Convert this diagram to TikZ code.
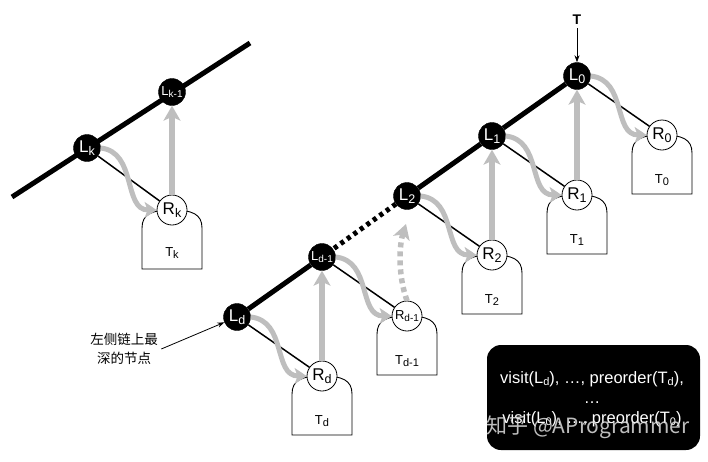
\documentclass[tikz,border=0pt]{standalone}
\usepackage{fontspec}
\setmainfont{Liberation Sans}
\newfontfamily\cjk{Noto Sans CJK SC}
\usetikzlibrary{arrows.meta,calc,backgrounds}
\newcommand\fs[1]{\fontsize{#1}{#1}\selectfont}
\newcommand\sbs[1]{\raisebox{-0.3ex}{\fontsize{12.5}{12.5}\selectfont #1}}
\newcommand\sbss[1]{\raisebox{-0.3ex}{\fontsize{10}{10}\selectfont #1}}
\newcommand\sbt[1]{\raisebox{-0.3ex}{\fontsize{11}{11}\selectfont #1}}
\definecolor{arrgray}{HTML}{BEBEBE}
\tikzset{
 lnode/.style={circle,fill=black,draw=black,minimum size=27pt,inner sep=0pt,text=white,font=\fs{17}},
 rnode/.style={circle,fill=white,draw=black,line width=0.8pt,minimum size=30pt,inner sep=0pt,font=\fs{17}},
 treebox/.style={draw=black,fill=white,line width=0.9pt},
 tlabel/.style={font=\fs{13},inner sep=0pt},
 spine/.style={line width=5pt},
 spinedot/.style={line width=5pt,dash pattern=on 4pt off 4pt},
 childln/.style={line width=1.5pt},
 uparr/.style={draw=arrgray,line width=5.5pt,-{Stealth[length=15pt,width=17pt,inset=4pt]}},
 curvarr/.style={draw=arrgray,line width=5pt,-{Stealth[length=12pt,width=16pt,inset=3pt]}},
 uparrd/.style={uparr,dash pattern=on 5pt off 4pt},
 ptr/.style={line width=0.8pt,-{Stealth[length=7pt,width=5pt]}},
 blackbox/.style={fill=black,rounded corners=14pt,minimum width=213pt,minimum height=105pt,inner sep=0pt}
}
\begin{document}
\begin{tikzpicture}[x=1pt,y=-1pt]
\useasboundingbox (0,0) rectangle (708,461);
% spine nodes
\node[lnode] (L0) at (577,76) {L\sbs{0}};
\node[lnode] (L1) at (492,136) {L\sbs{1}};
\node[lnode] (L2) at (407,196) {L\sbs{2}};
\node[lnode,font=\fs{13}] (Ld1) at (322,257) {L\sbss{d-1}};
\node[lnode] (Ld) at (237,317) {L\sbs{d}};
\node[rnode] (R0) at (662,135) {R\sbs{0}};
\node[rnode] (R1) at (577,195) {R\sbs{1}};
\node[rnode] (R2) at (492,255) {R\sbs{2}};
\node[rnode,font=\fs{13}] (Rd1) at (407,316) {R\sbss{d-1}};
\node[rnode] (Rd) at (322,376) {R\sbs{d}};
% left group
\coordinate (ka) at (12,197);
\coordinate (kb) at (250,43);
\node[lnode] (Lk) at (87,148) {L\sbs{k}};
\node[lnode,font=\fs{13}] (Lk1) at (172,92) {L\sbss{k-1}};
\node[rnode] (Rk) at (172,210) {R\sbs{k}};
% tree labels
\node[tlabel] (T0) at ($(R0)+(0,45)$) {T\sbt{0}};
\node[tlabel] (T1) at ($(R1)+(0,45)$) {T\sbt{1}};
\node[tlabel] (T2) at ($(R2)+(0,45)$) {T\sbt{2}};
\node[tlabel] (Td1) at ($(Rd1)+(0,45)$) {T\sbt{d-1}};
\node[tlabel] (Td) at ($(Rd)+(0,45)$) {T\sbt{d}};
\node[tlabel] (Tk) at ($(Rk)+(0,43)$) {T\sbt{k}};
\begin{scope}[on background layer]
\foreach \r in {R0,R1,R2,Rd1,Rd,Rk} {
  \draw[treebox,shift={(\r)}] (-30,59) -- (-30,18) .. controls (-30,4) and (-20,0) .. (0,0) .. controls (20,0) and (30,4) .. (30,18) -- (30,59) -- cycle;
}
\draw[childln] (L0) -- (R0);
\draw[childln] (L1) -- (R1);
\draw[childln] (L2) -- (R2);
\draw[childln] (Ld1) -- (Rd1);
\draw[childln] (Ld) -- (Rd);
\draw[childln] (Lk) -- (Rk);
\draw[spine] (L0) -- (L1) -- (L2);
\draw[spinedot] (L2) -- (Ld1);
\draw[spine] (Ld1) -- (Ld);
\draw[spine] (ka) -- (kb);
\end{scope}
% gray vertical arrows
\draw[uparr] (R1) -- (L0);
\draw[uparr] (R2) -- (L1);
\draw[uparr] (Rd) -- (Ld1);
\draw[uparr] (Rk) -- (Lk1);
\coordinate (dtip) at (406,224);
\draw[uparrd] (Rd1.north) .. controls (398,276) and (399,246) .. (dtip);
% curved arrows
\foreach \a/\b in {L0/R0,L1/R1,L2/R2,Ld1/Rd1,Ld/Rd,Lk/Rk} {
  \draw[curvarr] (\a.east) .. controls ($(\a)+(50,4)$) and ($(\b)+(-49,0)$) .. (\b.west);
}
% T pointer
\node[font=\fs{14}\bfseries] (T) at (577,20) {T};
\draw[ptr] (T) -- (L0);
% annotation
\node[align=center,font=\cjk\fontsize{13.5}{19}\selectfont] (note) at (124,349) {左侧链上最\\深的节点};
\draw[ptr] (note.east) -- (Ld);
% result box
\node[blackbox] (box) at (593.5,397.5) {};
\node[align=center,text=white,font=\fontsize{16.5}{20}\selectfont] (boxtext) at (592,399) {visit(L\sbt{d}), …, preorder(T\sbt{d}),\\…\\visit(L\sbt{0}), …, preorder(T\sbt{0})};
\node[font=\cjk\fs{21},text=gray!25,opacity=0.85] (wm) at (588,427) {知乎 @AProgrammer};
\end{tikzpicture}
\end{document}
